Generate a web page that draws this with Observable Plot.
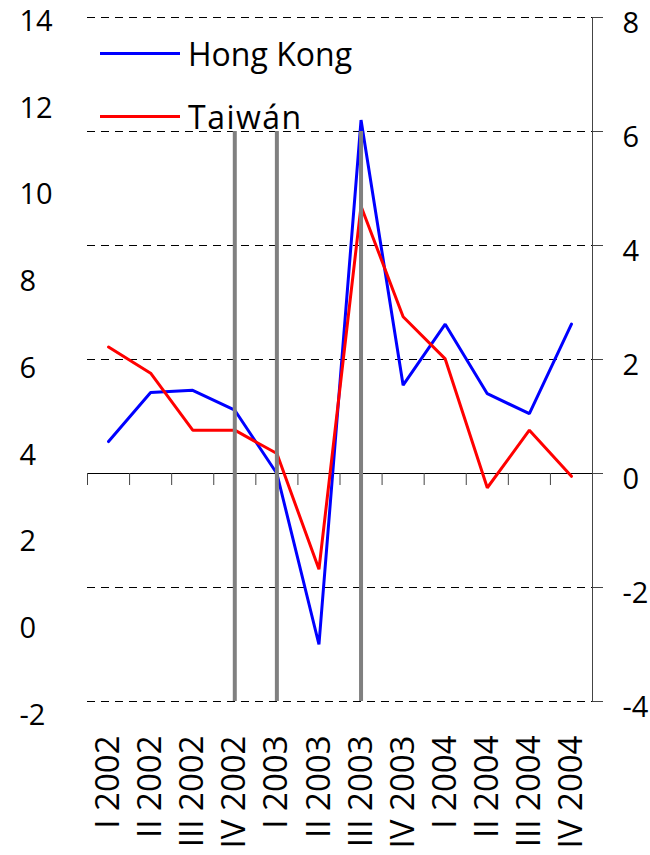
<!DOCTYPE html>
<html><head><meta charset="utf-8">
<script src="https://cdn.jsdelivr.net/npm/d3@7"></script>
<script src="https://cdn.jsdelivr.net/npm/@observablehq/plot@0.6"></script>
<style>
body{margin:0;background:#fff;}
#wrap{position:relative;width:650px;height:855px;}
#legend{position:absolute;left:100px;top:22px;font-family:"Open Sans";font-size:32px;color:#000;}
.item{display:flex;align-items:center;height:63px;white-space:nowrap;}
.sw{width:80px;height:3px;margin-right:8px;}
</style></head><body><div id="wrap"><div id="legend"></div></div>
<script>
const categories = ["I 2002","II 2002","III 2002","IV 2002","I 2003","II 2003","III 2003","IV 2003","I 2004","II 2004","III 2004","IV 2004"];
const hongKong = [0.56, 1.42, 1.46, 1.11, 0.0, -3.0, 6.2, 1.55, 2.62, 1.40, 1.05, 2.62];
const taiwan = [2.22, 1.76, 0.76, 0.76, 0.35, -1.68, 4.69, 2.75, 2.01, -0.25, 0.76, -0.05];
const rightTicks = [-4, -2, 0, 2, 4, 6, 8];
const leftTicks = [-2, 0, 2, 4, 6, 8, 10, 12, 14];
const gridValues = [-4, -2, 2, 4, 6, 8];
const markerCategories = ["IV 2002", "I 2003", "III 2003"];
const seriesNames = ["Hong Kong", "Taiwán"];
const seriesColors = ["#0000ff", "#ff0000"];
const seriesValues = [hongKong, taiwan];

const data = seriesNames.flatMap((name, k) => seriesValues[k].map((v, i) => ({i, v, name, color: seriesColors[k]})));
const xDomain = [-0.5, categories.length - 0.5];
const boundaries = d3.range(categories.length + 1).map(i => i - 0.5);
const leftMap = d3.scaleLinear([-2, 14], [-4.21, 7.96]);
const pxPerUnit = 684 / 12;

const plot = Plot.plot({
  width: 650, height: 855,
  marginLeft: 87, marginRight: 58, marginTop: 17, marginBottom: 154,
  x: {domain: xDomain, axis: null},
  y: {domain: [-4, 8], axis: null},
  style: {fontFamily: "Open Sans", background: "white", color: "#000"},
  marks: [
    Plot.ruleY(gridValues, {stroke: "#000", strokeDasharray: "8,6", strokeWidth: 1}),
    Plot.ruleY([0], {stroke: "#000", strokeWidth: 1}),
    Plot.ruleX(boundaries, {x: d => d, y1: 0, y2: -12 / pxPerUnit, stroke: "#444", strokeWidth: 1}),
    Plot.ruleX(xDomain.slice(1), {x: d => d, y1: -4, y2: 8, stroke: "#444", strokeWidth: 1}),
    Plot.ruleY(rightTicks, {y: d => d, x1: xDomain[1], x2: xDomain[1] + 11 / 42.08, stroke: "#444", strokeWidth: 1}),
    Plot.text(rightTicks, {y: d => d, text: d => String(d), frameAnchor: "right", dx: 30, dy: 6, textAnchor: "start", fontSize: 29, fill: "#000"}),
    Plot.line(data, {x: "i", y: "v", z: "name", stroke: "color", strokeWidth: 3, strokeLinejoin: "miter"}),
    Plot.ruleX(markerCategories, {x: d => categories.indexOf(d), y1: -4, y2: 6, stroke: "#808080", strokeWidth: 4}),
    Plot.text(leftTicks, {y: d => leftMap(d), text: d => String(d), frameAnchor: "left", dx: -68, dy: 2, textAnchor: "start", fontSize: 29, fill: "#000"}),
    Plot.text(categories, {x: (d, i) => i, text: d => d, frameAnchor: "bottom", dy: 34, rotate: -90, textAnchor: "end", lineAnchor: "middle", fontSize: 33, fill: "#000"})
  ]
});
document.getElementById("wrap").prepend(plot);

const legend = document.getElementById("legend");
seriesNames.forEach((name, k) => {
  const item = document.createElement("div");
  item.className = "item";
  const sw = document.createElement("span");
  sw.className = "sw";
  sw.style.background = seriesColors[k];
  const label = document.createElement("span");
  label.textContent = name;
  if (k === 1) label.style.letterSpacing = "1.5px";
  item.append(sw, label);
  legend.append(item);
});
</script>
</body></html>
